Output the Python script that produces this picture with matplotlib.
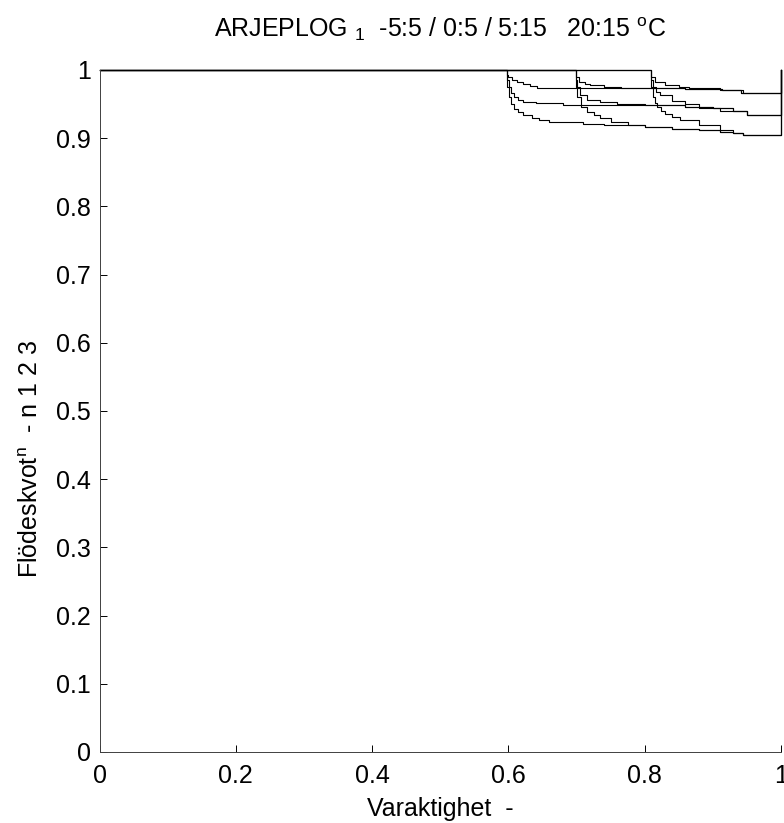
import matplotlib
matplotlib.use("Agg")
import matplotlib.pyplot as plt

plt.rcParams['font.family'] = ['Liberation Sans', 'DejaVu Sans']
plt.rcParams['mathtext.fontset'] = 'custom'
plt.rcParams['mathtext.rm'] = 'Liberation Sans'
plt.rcParams['mathtext.it'] = 'Liberation Sans'

# Duration curves, three start groups (x0 ~0.596, 0.698, 0.808), n = 1, 2, 3
g1a_x = [0, 0.596, 0.598, 0.600, 0.606, 0.612, 0.622, 0.632, 0.642, 0.80, 0.86, 0.913, 0.942, 1.0, 1.0]
g1a_y = [1, 1, 0.993, 0.989, 0.985, 0.982, 0.979, 0.977, 0.974, 0.973, 0.972, 0.970, 0.966, 0.966, 1.0]
g1b_x = [0, 0.596, 0.598, 0.601, 0.604, 0.608, 0.614, 0.622, 0.640, 0.680, 0.80, 0.86, 0.90, 0.93, 0.95, 1.0, 1.0]
g1b_y = [1, 1, 0.985, 0.975, 0.966, 0.960, 0.956, 0.953, 0.951, 0.949, 0.948, 0.946, 0.944, 0.940, 0.934, 0.934, 1.0]
g1c_x = [0, 0.596, 0.598, 0.601, 0.604, 0.608, 0.614, 0.622, 0.635, 0.645, 0.660, 0.71, 0.74, 0.80, 0.84, 0.88, 0.91, 0.93, 0.945, 1.0, 1.0]
g1c_y = [1, 1, 0.975, 0.960, 0.950, 0.943, 0.938, 0.934, 0.929, 0.926, 0.924, 0.921, 0.919, 0.917, 0.914, 0.912, 0.909, 0.907, 0.905, 0.905, 1.0]

g2a_x = [0, 0.698, 0.700, 0.703, 0.712, 0.720, 0.740, 0.765, 0.86, 0.913, 0.942, 1.0, 1.0]
g2a_y = [1, 1, 0.990, 0.982, 0.980, 0.978, 0.975, 0.973, 0.972, 0.970, 0.966, 0.966, 1.0]
g2b_x = [0, 0.698, 0.700, 0.701, 0.705, 0.715, 0.735, 0.760, 0.80, 0.86, 0.90, 0.93, 0.95, 1.0, 1.0]
g2b_y = [1, 1, 0.985, 0.975, 0.963, 0.956, 0.953, 0.950, 0.948, 0.946, 0.944, 0.940, 0.934, 0.934, 1.0]
g2c_x = [0, 0.698, 0.700, 0.701, 0.706, 0.715, 0.725, 0.735, 0.750, 0.775, 0.80, 0.84, 0.88, 0.91, 0.93, 0.945, 1.0, 1.0]
g2c_y = [1, 1, 0.975, 0.960, 0.945, 0.938, 0.934, 0.930, 0.924, 0.919, 0.917, 0.914, 0.912, 0.909, 0.907, 0.905, 0.905, 1.0]

g3a_x = [0, 0.808, 0.810, 0.815, 0.830, 0.850, 0.865, 0.910, 0.944, 1.0, 1.0]
g3a_y = [1, 1, 0.990, 0.983, 0.978, 0.975, 0.973, 0.970, 0.966, 0.966, 1.0]
g3b_x = [0, 0.808, 0.810, 0.812, 0.816, 0.822, 0.840, 0.860, 0.880, 0.910, 0.950, 1.0, 1.0]
g3b_y = [1, 1, 0.985, 0.975, 0.968, 0.963, 0.955, 0.950, 0.944, 0.940, 0.934, 0.934, 1.0]
g3c_x = [0, 0.808, 0.810, 0.812, 0.815, 0.818, 0.824, 0.830, 0.840, 0.852, 0.880, 0.910, 0.930, 0.945, 1.0, 1.0]
g3c_y = [1, 1, 0.975, 0.960, 0.952, 0.945, 0.940, 0.935, 0.931, 0.927, 0.919, 0.912, 0.908, 0.905, 0.905, 1.0]

curves = [(g1a_x, g1a_y), (g1b_x, g1b_y), (g1c_x, g1c_y),
          (g2a_x, g2a_y), (g2b_x, g2b_y), (g2c_x, g2c_y),
          (g3a_x, g3a_y), (g3b_x, g3b_y), (g3c_x, g3c_y)]

tick_vals = [0, 0.1, 0.2, 0.3, 0.4, 0.5, 0.6, 0.7, 0.8, 0.9, 1]
y_tick_labels = ['0', '0.1', '0.2', '0.3', '0.4', '0.5', '0.6', '0.7', '0.8', '0.9', '1']
x_tick_vals = [0, 0.2, 0.4, 0.6, 0.8, 1]
x_tick_labels = ['0', '0.2', '0.4', '0.6', '0.8', '1']

FS = 18

fig = plt.figure(figsize=(7.84, 8.23), dpi=100)
ax = fig.add_axes([0.127, 0.0863, 0.869, 0.8287])

for cx, cy in curves:
    ax.plot(cx, cy, color='black', lw=0.8, drawstyle='steps-post', clip_on=False)

ax.set_xlim(0, 1)
ax.set_ylim(0, 1)
ax.set_xticks(x_tick_vals)
ax.set_xticklabels(x_tick_labels)
ax.set_yticks(tick_vals)
ax.set_yticklabels(y_tick_labels)
ax.tick_params(direction='in', length=5, width=0.7, labelsize=FS, colors='black')
ax.tick_params(axis='x', pad=9)
ax.tick_params(axis='y', pad=6)
for s in ['top', 'right']:
    ax.spines[s].set_visible(False)
for s in ['left', 'bottom']:
    ax.spines[s].set_linewidth(0.7)
    ax.spines[s].set_color('#404040')

ax.set_xlabel('Varaktighet  -', fontsize=FS, labelpad=6)
ax.set_ylabel(r'Flödeskvot$^{\rm n}$  - n 1 2 3', fontsize=FS)
ax.yaxis.set_label_coords(-0.083, 0.43)
ax.set_title(r'ARJEPLOG $_{\rm 1}$  -5:5 / 0:5 / 5:15   20:15 $^{\rm o}$C', fontsize=FS, pad=24)

fig.savefig('out.png', dpi=100)
